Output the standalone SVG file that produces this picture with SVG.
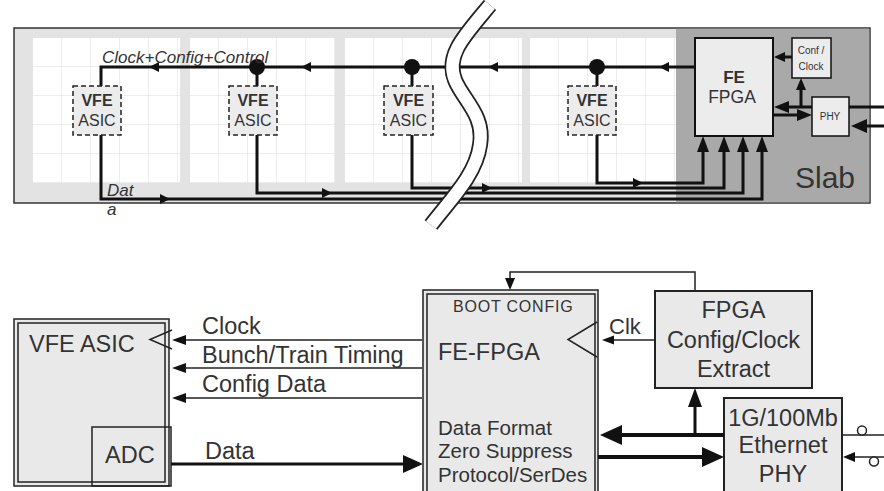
<svg xmlns="http://www.w3.org/2000/svg" width="884" height="491" viewBox="0 0 884 491">
<defs>
<style>
text{font-family:"Liberation Sans",Arial,sans-serif;fill:#333}
.it{font-style:italic;font-size:17px}
.box{fill:#e9e9e9;stroke:#222;stroke-width:1.5}
.dash{fill:#ececec;stroke:#222;stroke-width:1.5;stroke-dasharray:5 3}
.ln{fill:none;stroke:#111;stroke-width:3}
.thin{fill:none;stroke:#222;stroke-width:1.5}
.thick{fill:none;stroke:#111;stroke-width:4}
.ah{fill:#111}
.big{font-size:23.5px}
.mid{text-anchor:middle}
</style>
<pattern id="grid" width="29" height="29" patternUnits="userSpaceOnUse">
<rect width="29" height="29" fill="#fff"/>
<path d="M29 0V29M0 29H29" stroke="#dcdcdc" stroke-width="1"/>
</pattern>
</defs>

<!-- ===== Top: Slab ===== -->
<g id="slab">
<rect x="14" y="28" width="856" height="175" fill="#e3e3e3" stroke="#333" stroke-width="1.5"/>
<rect x="676" y="28.75" width="193.25" height="173.5" fill="#a9a9a9"/>
<g transform="translate(33,38)"><rect width="147" height="145" fill="url(#grid)"/></g>
<g transform="translate(190,38)"><rect width="145" height="145" fill="url(#grid)"/></g>
<g transform="translate(345,38)"><rect width="177" height="145" fill="url(#grid)"/></g>
<g transform="translate(530,38)"><rect width="146" height="145" fill="url(#grid)"/></g>
<text x="795" y="188" font-size="30">Slab</text>
</g>

<g id="top-connectors">
<path class="ln" d="M695 67H101V86"/>
<path class="ln" d="M257 67V86M412 67V86M597 67V86"/>
<circle cx="257" cy="67" r="8" fill="#111"/>
<circle cx="412" cy="67" r="8" fill="#111"/>
<circle cx="597" cy="67" r="8" fill="#111"/>
<polygon class="ah" points="149,67 159,62 159,72"/>
<polygon class="ah" points="301,67 311,62 311,72"/>
<polygon class="ah" points="488,67 498,62 498,72"/>
<polygon class="ah" points="659,67 669,62 669,72"/>
<path class="ln" stroke-width="2.6" d="M101 135V199H762V150"/>
<path class="ln" stroke-width="2.6" d="M257 135V193H743V150"/>
<path class="ln" stroke-width="2.6" d="M412 135V188H724V150"/>
<path class="ln" stroke-width="2.6" d="M597 135V183H703V150"/>
<polygon class="ah" points="170,199 160,194 160,204"/>
<polygon class="ah" points="332,193 322,188 322,198"/>
<polygon class="ah" points="492,188 482,183 482,193"/>
<polygon class="ah" points="643,183 633,178 633,188"/>
<polygon class="ah" points="703,136 697,152 709,152"/>
<polygon class="ah" points="724,136 718,152 730,152"/>
<polygon class="ah" points="743,136 737,152 749,152"/>
<polygon class="ah" points="762,136 756,152 768,152"/>
<path class="ln" stroke-width="2" d="M792 57H783"/>
<polygon class="ah" points="774,57 785,52 785,62"/>
<path class="ln" d="M812 107H786M801 107V88"/>
<polygon class="ah" points="774,107 789,101 789,113"/>
<polygon class="ah" points="801,78 796,90 806,90"/>
<path class="ln" d="M773 115H798"/>
<polygon class="ah" points="812,115 797,109 797,121"/>
<path class="ln" d="M849 107H884M884 126H866"/>
<polygon class="ah" points="851,126 867,119 867,133"/>
</g>

<g id="vfe1"><rect class="dash" x="73" y="86" width="48" height="49"/><text x="97" y="106" font-size="16" font-weight="bold" class="mid">VFE</text><text x="97" y="126" font-size="16" class="mid">ASIC</text></g>
<g id="vfe2"><rect class="dash" x="229" y="86" width="48" height="49"/><text x="253" y="106" font-size="16" font-weight="bold" class="mid">VFE</text><text x="253" y="126" font-size="16" class="mid">ASIC</text></g>
<g id="vfe3"><rect class="dash" x="384" y="86" width="49" height="49"/><text x="408.5" y="106" font-size="16" font-weight="bold" class="mid">VFE</text><text x="408.5" y="126" font-size="16" class="mid">ASIC</text></g>
<g id="vfe4"><rect class="dash" x="568" y="86" width="48" height="49"/><text x="592" y="106" font-size="16" font-weight="bold" class="mid">VFE</text><text x="592" y="126" font-size="16" class="mid">ASIC</text></g>
<g id="fe-fpga-top"><rect x="695" y="38" width="78" height="98" fill="#ececec" stroke="#111" stroke-width="2"/><text x="734" y="83" font-size="17" font-weight="bold" class="mid">FE</text><text x="732" y="103" font-size="17.5" class="mid">FPGA</text></g>
<g id="conf-clock"><rect x="792" y="38" width="39" height="40" fill="#ececec" stroke="#111" stroke-width="1.5"/><text x="811" y="54" font-size="10" class="mid">Conf /</text><text x="811" y="70" font-size="10" class="mid">Clock</text></g>
<g id="phy-top"><rect x="812" y="97" width="37" height="39" fill="#ececec" stroke="#111" stroke-width="1.5"/><text x="830" y="120" font-size="10" class="mid">PHY</text></g>

<g id="top-labels">
<text class="it" x="102" y="63">Clock+Config+Control</text>
<text class="it" x="107" y="196">Dat</text>
<text class="it" x="107" y="215">a</text>
</g>

<g id="break">
<path d="M490 5C465 35 445 55 455 80C463 100 485 115 480 145C476 175 450 200 431 225" fill="none" stroke="#222" stroke-width="16"/>
<path d="M490 5C465 35 445 55 455 80C463 100 485 115 480 145C476 175 450 200 431 225" fill="none" stroke="#fff" stroke-width="12.5"/>
</g>

<!-- ===== Bottom ===== -->
<g id="vfe-asic">
<rect class="box" x="14" y="319" width="155" height="167"/>
<rect class="thin" x="18" y="323" width="147" height="159"/>
<polyline class="thin" stroke-width="1.2" points="172,330 150,339.5 172,349"/>
<text class="big" x="29" y="352">VFE ASIC</text>
</g>
<g id="adc"><rect class="thin" x="92" y="427" width="79" height="59"/><text class="big" x="105" y="463">ADC</text></g>

<g id="fe-fpga">
<rect class="box" x="423" y="290" width="175" height="210"/>
<rect class="thin" x="427" y="294" width="168" height="210"/>
<polyline class="thin" stroke-width="1.2" points="597,322 568,339.5 597,357"/>
<text x="453" y="312" font-size="16" letter-spacing="0.8">BOOT CONFIG</text>
<text x="438" y="360" font-size="23.5">FE-FPGA</text>
<text x="438" y="435" font-size="20.5">Data Format</text>
<text x="438" y="458" font-size="20.5">Zero Suppress</text>
<text x="438" y="482" font-size="20.5">Protocol/SerDes</text>
</g>

<g id="fpga-config"><rect x="655" y="291" width="157" height="97" fill="#e9e9e9" stroke="#222" stroke-width="2"/>
<text x="733.5" y="318" font-size="23.5" class="mid">FPGA</text>
<text x="733.5" y="348" font-size="23.5" class="mid">Config/Clock</text>
<text x="733.5" y="377" font-size="23.5" class="mid">Extract</text></g>

<g id="ethernet-phy"><rect x="724" y="398" width="118" height="100" fill="#e9e9e9" stroke="#222" stroke-width="2"/>
<text x="783" y="426" font-size="23.5" class="mid">1G/100Mb</text>
<text x="783" y="453" font-size="23.5" class="mid">Ethernet</text>
<text x="783" y="482" font-size="23.5" class="mid">PHY</text></g>

<g id="bottom-connectors">
<path class="thin" d="M422 340H183M422 368H183M422 398H183"/>
<polygon class="ah" points="172,340 186,335 186,345"/>
<polygon class="ah" points="172,368 186,363 186,373"/>
<polygon class="ah" points="172,398 186,393 186,403"/>
<path class="ln" stroke-width="3.5" d="M171 464H405"/>
<polygon class="ah" points="423,464 403,455 403,473"/>
<path class="thin" d="M655 340H612"/>
<polygon class="ah" points="602,340 614,335.5 614,344.5"/>
<path class="thin" d="M695 291V272H510V279"/>
<polygon class="ah" points="510,290 505,278 515,278"/>
<path class="thick" d="M724 435H620"/>
<polygon class="ah" points="600,435 622,425 622,445"/>
<path class="thick" d="M598 457H703"/>
<polygon class="ah" points="724,457 702,447 702,467"/>
<path class="ln" d="M695 435V405"/>
<polygon class="ah" points="695,388 688,407 702,407"/>
<path class="thin" d="M842 435H884M884 457H853"/>
<polygon class="ah" points="843,457 855,452 855,462"/>
<circle cx="862" cy="430.5" r="4.5" fill="#fff" stroke="#222" stroke-width="1.5"/>
<circle cx="874" cy="461.5" r="4.5" fill="#fff" stroke="#222" stroke-width="1.5"/>
</g>

<g id="bottom-labels">
<text class="big" x="202" y="334">Clock</text>
<text class="big" x="202" y="363">Bunch/Train Timing</text>
<text class="big" x="202" y="392">Config Data</text>
<text class="big" x="205" y="459">Data</text>
<text x="609" y="334" font-size="22">Clk</text>
</g>
</svg>
